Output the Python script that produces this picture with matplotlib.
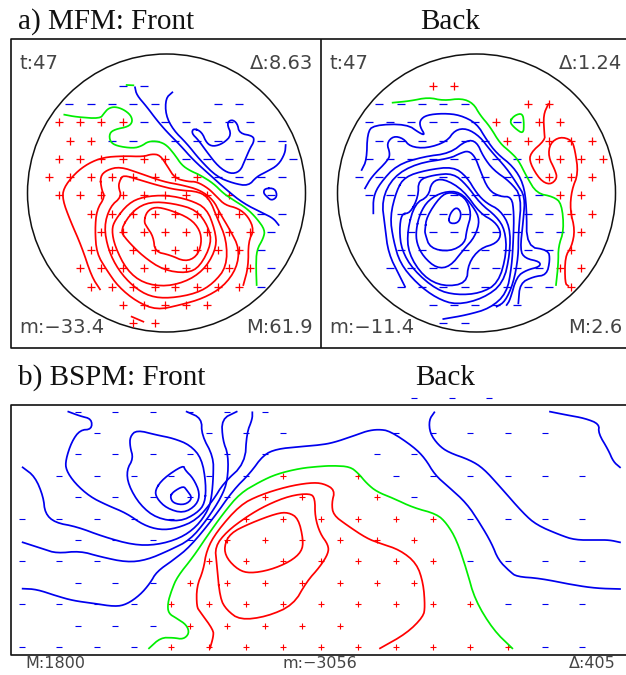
import matplotlib
matplotlib.use("Agg")
import matplotlib.pyplot as plt
from matplotlib.patches import Circle

RED, BLUE, GREEN = "#ff0000", "#0000ee", "#00ee00"

# ---- panel a, front: markers per row {row y: [x...]} (crop units, 3 per pixel)
a_front_plus = {
 367:[178,240,304,368], 422:[210,272], 477:[178,240,304,368,432,494],
 531:[146,210,272,336,400,464,526,590], 586:[178,240,304,368,432,494,558,622,686],
 641:[272,336,400,464,526,590,654,718], 695:[304,368,432,494,558,622,686,750],
 750:[272,336,400,464,526,590,654,718], 805:[240,304,368,432,494,558,622,686,750],
 860:[272,336,400,464,526,590,654,718], 914:[368,432,494,558,622], 968:[400,464]}
a_front_minus = {
 257:[368,432], 312:[208,272,336,400,464,654,718], 367:[432,494,558,622,686,750],
 422:[336,400,464,526,590,654,718,782,846], 477:[558,622,686,750,814,878],
 531:[654,718,782,846], 586:[750,814], 641:[782,846], 695:[814], 750:[782], 805:[814], 860:[782]}

a_front_green = [
 [(193,344),(230,351),(300,356),(312,340),(325,325),(345,320),(370,328),(392,345),(398,365),(385,380),(345,388),(328,400),(330,425),(350,438),(400,445),(425,438),(445,424),(475,424),(500,435),(525,465),(545,495),(570,512),(600,525),(640,550),(670,580),(700,600),(740,625),(770,655),(795,690),(790,715),(770,750),(768,800),(770,855)],
 [(380,255),(400,256)]]
a_front_blue = [
 [(405,262),(410,285),(440,320),(470,360),(500,395),(540,435),(580,480),(630,525),(680,570),(730,610),(790,640),(820,655),(836,675)],
 [(517,277),(497,295),(497,345),(520,390),(560,430),(600,480),(650,530),(700,550),(745,558),(770,530),(800,515),(835,495),(855,460),(857,435)],
 [(580,385),(605,395),(620,430),(640,440),(670,430),(695,405),(680,370),(695,358),(712,370),(718,400),(760,408),(762,425),(750,445),(735,480),(720,515),(690,522),(655,500),(620,455),(595,420),(575,400),(580,385)],
 [(795,565),(825,565),(832,590),(815,602),(800,590),(790,578),(795,565)]]
a_front_red = [
 [(300,868),(275,830),(245,740),(210,660),(188,600),(190,565),(225,520),(265,490),(310,472),(370,468),(430,470),(455,462),(480,465),(503,500),(525,535),(565,545),(590,545),(625,565),(650,590),(675,615),(715,625),(745,650),(762,690),(745,725),(745,800),(730,855)],
 [(395,950),(430,965)],
 [(300,530),(305,570),(315,590),(290,630),(285,690),(290,760),(320,810),(355,860),(410,905),(470,930),(540,915),(610,895),(670,860),(710,805),(718,745),(690,690),(660,640),(640,600),(600,570),(545,555),(490,545),(420,520),(360,500),(320,510),(300,530)],
 [(360,540),(370,525),(420,540),(470,555),(530,570),(600,575),(630,600),(650,650),(680,720),(680,800),(640,850),(590,880),(510,895),(450,890),(400,860),(355,810),(325,750),(312,680),(330,620),(365,590),(355,560),(360,540)],
 [(345,660),(385,610),(430,590),(500,585),(570,600),(620,625),(645,690),(650,740),(620,800),(570,840),(500,860),(430,850),(380,810),(345,740),(335,690),(345,660)],
 [(360,690),(400,630),(450,605),(520,610),(590,630),(625,680),(635,730),(600,800),(560,820),(490,810),(430,770),(380,720),(360,690)],
 [(432,665),(440,635),(465,620),(510,630),(570,655),(600,690),(605,730),(590,770),(555,785),(510,765),(465,755),(460,710),(440,680),(432,665)]]

# ---- panel a, back
a_back_minus = {
 312:[208,272,336,400,464], 367:[176,240,304,368,432,494,622], 422:[208,272,336,400,464,526],
 477:[176,240,304,368,432,494,558,622], 531:[146,208,272,336,400,464,526,590,654],
 586:[176,240,304,368,432,494,558,622,686], 641:[272,336,400,464,526,590,654,718],
 695:[304,368,432,494,558,622,686,750], 750:[272,336,400,464,526,590,654,718],
 805:[240,304,368,432,494,558,622,686], 860:[272,336,400,464,526,590,654,718],
 914:[368,432,494,558,622], 968:[400,464]}
a_back_plus = {
 257:[368,432], 312:[654,718], 367:[558,686,750], 422:[590,654,718,782,846],
 477:[686,750,814,878], 531:[718,782,846], 586:[750,814], 641:[782,846], 695:[814],
 750:[782], 805:[750,814], 860:[782]}
a_back_green = [
 [(248,308),(300,303),(355,292),(400,302),(455,295),(490,310),(510,345),(540,380),(570,430),(600,455),(625,480),(650,530),(680,580),(730,590),(755,610),(762,690),(745,740),(745,790),(738,855)],
 [(598,365),(615,345),(638,340),(642,370),(640,402),(615,385),(598,365)]]
a_back_red = [
 [(715,312),(700,345),(703,400),(705,420),(660,460),(660,490),(690,540),(720,555),(742,535),(735,510),(715,470),(720,430),(750,410),(785,420),(795,450),(805,520),(785,570),(780,630),(795,690),(785,740),(765,770),(765,850),(775,858)]]
a_back_blue = [
 [(155,510),(170,480),(172,400),(190,375),(290,372),(330,400),(345,405),(330,380),(330,360),(350,345),(400,340),(450,345),(500,370),(530,420),(560,460),(610,500),(640,550),(650,620),(650,740),(715,750),(720,780),(710,825),(670,830),(630,850),(625,910)],
 [(165,565),(185,530),(235,480),(240,460),(230,430),(250,408),(280,415),(300,440),(350,445),(410,425),(435,390),(470,385),(510,410),(540,450),(590,505),(620,550),(645,590),(640,660),(630,750),(645,775),(690,785),(690,800),(650,810),(620,830),(600,900),(590,915)],
 [(190,640),(190,590),(210,550),(260,495),(340,470),(420,460),(470,420),(500,425),(520,470),(550,510),(600,545),(635,590),(625,700),(625,770),(610,850),(585,905),(560,920)],
 [(285,860),(270,830),(235,760),(225,680),(215,600),(250,530),(320,490),(420,475),(450,460),(475,452),(495,470),(510,510),(535,570),(570,590),(605,590),(612,640),(610,720),(605,800),(590,880),(540,925),(470,945),(400,957)],
 [(260,570),(285,530),(350,510),(430,500),(470,530),(500,580),(530,610),(570,630),(600,680),(600,760),(580,850),(520,895),(440,915),(380,895),(320,850),(270,790),(250,720),(240,650),(260,570)],
 [(300,640),(325,590),(325,540),(370,525),(430,520),(470,555),(510,610),(560,650),(585,690),(590,760),(565,850),(510,880),(440,885),(380,870),(310,810),(275,750),(268,690),(275,640),(300,640)],
 [(292,690),(315,610),(355,590),(365,545),(400,535),(460,570),(510,640),(555,665),(575,700),(560,730),(510,745),(475,790),(470,850),(400,860),(340,830),(295,760),(292,690)],
 [(318,690),(330,640),(355,600),(400,575),(450,575),(490,620),(510,660),(495,710),(460,750),(420,800),(380,805),(340,770),(320,730),(318,690)],
 [(345,690),(350,650),(390,590),(420,575),(465,590),(485,640),(470,690),(465,730),(420,755),(360,745),(345,700),(345,690)],
 [(415,670),(420,640),(440,620),(455,640),(445,670),(415,670)]]

# ---- panel b
b_minus = {
 145:[1243,1355,1467],
 185:[234,346,458,570,682,794], 249:[290,626,738,850,1187,1299,1411,1523,1635],
 313:[234,346,458,570,682,794,1131,1243], 377:[178,290,402,514,626,738,1187,1299,1411,1523,1635,1747],
 441:[234,346,458,570,682,1243], 506:[66,178,290,402,514,626,1411,1523,1635,1747],
 570:[234,346,458,570], 634:[66,178,290,1411,1523,1635,1747], 698:[234,346,458],
 763:[66,178,290,402,1523,1635,1747], 827:[234,346,458], 891:[66,178,290,402,1635,1747]}
b_plus = {
 377:[850,1075], 441:[794,906,1131], 506:[738,850,963,1075,1187,1299],
 570:[682,794,906,1019,1131,1243], 634:[626,738,850,963,1075,1187,1299],
 698:[570,682,794,906,1019,1131,1243], 763:[514,626,738,850,963,1075,1187,1299,1411],
 827:[570,682,794,906,1019], 891:[514,626,738,850,963,1075,1187,1299,1411,1523]}
b_blue = [
 [(205,185),(240,198),(275,207),(275,238),(240,240),(215,275),(197,330),(198,360),(225,400),(270,440),(320,465),(380,490),(430,525),(480,540),(530,535),(590,510),(640,450),(670,400),(735,340),(740,250),(757,207),(757,187)],
 [(68,352),(105,380),(130,440),(135,490),(165,518),(230,530),(310,560),(400,585),(470,585),(540,565),(590,530),(625,480),(635,440),(640,380),(640,320),(605,255),(605,205),(560,185)],
 [(68,577),(130,597),(170,610),(240,603),(300,620),(380,637),(440,630),(510,600),(570,570),(620,510),(665,440),(683,390),(685,315),(668,270),(665,207),(710,185)],
 [(68,716),(110,718),(170,738),(220,752),(280,760),(345,770),(380,763),(420,735),(450,700),(470,665),(520,630),(570,590),(640,505),(700,420),(750,370),(790,315),(830,297),(900,290),(960,285),(1000,278),(1060,258),(1100,243),(1135,238),(1170,243),(1240,290),(1275,325),(1305,375),(1345,410),(1400,460),(1440,520),(1475,580),(1495,630),(1530,665),(1550,680),(1620,685),(1720,705),(1790,715),(1860,717)],
 [(615,460),(618,400),(605,325),(570,285),(520,265),(470,255),(410,240),(390,260),(390,290),(400,325),(380,360),(385,405),(420,465),(470,505),(540,515),(590,490),(615,460)],
 [(465,420),(490,385),(550,345),(555,360),(580,385),(600,430),(590,465),(550,490),(500,475),(470,445),(465,420)],
 [(510,440),(520,425),(550,408),(560,420),(578,445),(555,465),(520,460),(510,440)],
 [(1303,187),(1287,210),(1290,250),(1315,285),(1345,307),(1410,330),(1450,355),(1500,410),(1570,490),(1610,525),(1680,555),(1725,570),(1790,570),(1828,570),(1860,577)],
 [(1650,185),(1700,195),(1755,205),(1798,222),(1795,250),(1825,300),(1840,335),(1860,352)]]
b_green = [
 [(447,895),(482,863),(520,863),(550,868),(568,850),(560,825),(530,805),(505,790),(503,760),(515,720),(532,680),(580,620),(620,560),(670,490),(720,430),(780,395),(830,372),(900,355),(960,349),(1000,347),(1050,350),(1075,370),(1100,400),(1130,425),(1180,445),(1240,473),(1310,492),(1340,520),(1370,570),(1400,660),(1425,750),(1480,840),(1537,895)]]
b_red = [
 [(630,895),(640,860),(640,840),(600,785),(590,770),(590,710),(610,660),(620,600),(650,545),(720,465),(780,435),(860,410),(930,398),(970,400),(1005,420),(995,460),(1000,495),(1040,525),(1100,565),(1140,580),(1200,600),(1250,640),(1270,700),(1275,770),(1270,800),(1220,850),(1140,895)],
 [(660,745),(650,640),(645,590),(680,545),(740,500),(800,465),(870,437),(930,430),(945,445),(945,500),(960,550),(985,585),(985,610),(960,650),(920,695),(880,765),(800,800),(720,810),(680,780),(660,745)],
 [(672,590),(690,550),(750,520),(830,490),(865,487),(895,505),(910,570),(905,605),(870,635),(810,660),(750,670),(715,660),(680,625),(672,590)]]

W, H = 626, 675
fig = plt.figure(figsize=(W/100, H/100), dpi=100)
ax = fig.add_axes([0, 0, 1, 1])
ax.set_xlim(0, W); ax.set_ylim(H, 0); ax.axis("off")

def rounded(line, passes=2):
    """Corner-cutting so the traced contours draw as soft curves, not polygons."""
    pts = list(line)
    closed = pts[0] == pts[-1] and len(pts) > 2
    for _ in range(passes):
        out = [] if closed else [pts[0]]
        for a, b in zip(pts[:-1], pts[1:]):
            out.append((0.75*a[0] + 0.25*b[0], 0.75*a[1] + 0.25*b[1]))
            out.append((0.25*a[0] + 0.75*b[0], 0.25*a[1] + 0.75*b[1]))
        if closed:
            out.append(out[0])
        else:
            out.append(pts[-1])
        pts = out
    return pts

def draw_rows(rows, marker, color, ox, oy, size, edge):
    xs, ys = [], []
    for y, row in rows.items():
        for x in row:
            xs.append(x/3 + ox); ys.append(y/3 + oy)
    ax.plot(xs, ys, ls="none", marker=marker, color=color, ms=size, mew=edge, zorder=3)

def draw_lines(lines, color, ox, oy, lw=1.25):
    for line in lines:
        pts = rounded(line)
        ax.plot([p[0]/3 + ox for p in pts], [p[1]/3 + oy for p in pts],
                color=color, lw=lw, solid_joinstyle="round", zorder=4)

FRONT_OX, BACK_OX = 0, 310
A_OY, B_OY = 0, 350

# frames
frame = dict(color="#111111", lw=1.2, zorder=5, solid_capstyle="butt")
ax.plot([W, 11, 11, W], [38.5, 38.5, 348, 348], **frame)
ax.plot([321, 321], [38.5, 348], **frame)
ax.plot([W, 11, 11, W], [405, 405, 655, 655], **frame)

# head circles
for cx in (166.5, 476.5):
    ax.add_patch(Circle((cx, 193), 139, fill=False, ec="#111111", lw=1.1, zorder=2))

MS_A, MS_B = 5.8, 4.3
draw_rows(a_front_plus, "+", RED, FRONT_OX, A_OY, MS_A, 0.9)
draw_rows(a_front_minus, "_", BLUE, FRONT_OX, A_OY, MS_A, 0.9)
draw_lines(a_front_red, RED, FRONT_OX, A_OY)
draw_lines(a_front_blue, BLUE, FRONT_OX, A_OY)
draw_lines(a_front_green, GREEN, FRONT_OX, A_OY)

draw_rows(a_back_plus, "+", RED, BACK_OX, A_OY, MS_A, 0.9)
draw_rows(a_back_minus, "_", BLUE, BACK_OX, A_OY, MS_A, 0.9)
draw_lines(a_back_red, RED, BACK_OX, A_OY)
draw_lines(a_back_blue, BLUE, BACK_OX, A_OY)
draw_lines(a_back_green, GREEN, BACK_OX, A_OY)

draw_rows(b_plus, "+", RED, 0, B_OY, MS_B, 0.8)
draw_rows(b_minus, "_", BLUE, 0, B_OY, MS_B, 0.8)
draw_lines(b_red, RED, 0, B_OY)
draw_lines(b_blue, BLUE, 0, B_OY)
draw_lines(b_green, GREEN, 0, B_OY)

# titles
serif = dict(family="Liberation Serif", fontsize=21, color="#111111", va="baseline")
ax.text(18, 29, "a) MFM: Front", **serif)
ax.text(420, 29, "Back", **serif)
ax.text(18, 385, "b) BSPM: Front", **serif)
ax.text(415, 385, "Back", **serif)

# annotations
sans = dict(family="DejaVu Sans", fontsize=14, color="#444444", va="baseline")
ax.text(19, 69, "t:47", **sans)
ax.text(313, 69, "\u0394:8.63", ha="right", **sans)
ax.text(19, 333, "m:\u221233.4", **sans)
ax.text(313, 333, "M:61.9", ha="right", **sans)
ax.text(329, 69, "t:47", **sans)
ax.text(622, 69, "\u0394:1.24", ha="right", **sans)
ax.text(329, 333, "m:\u221211.4", **sans)
ax.text(622, 333, "M:2.6", ha="right", **sans)

small = dict(family="DejaVu Sans", fontsize=11.5, color="#444444", va="baseline")
ax.text(25, 668, "M:1800", **small)
ax.text(283, 668, "m:\u22123056", **small)
ax.text(616, 668, "\u0394:405", ha="right", **small)

fig.savefig("out.png", dpi=100)
